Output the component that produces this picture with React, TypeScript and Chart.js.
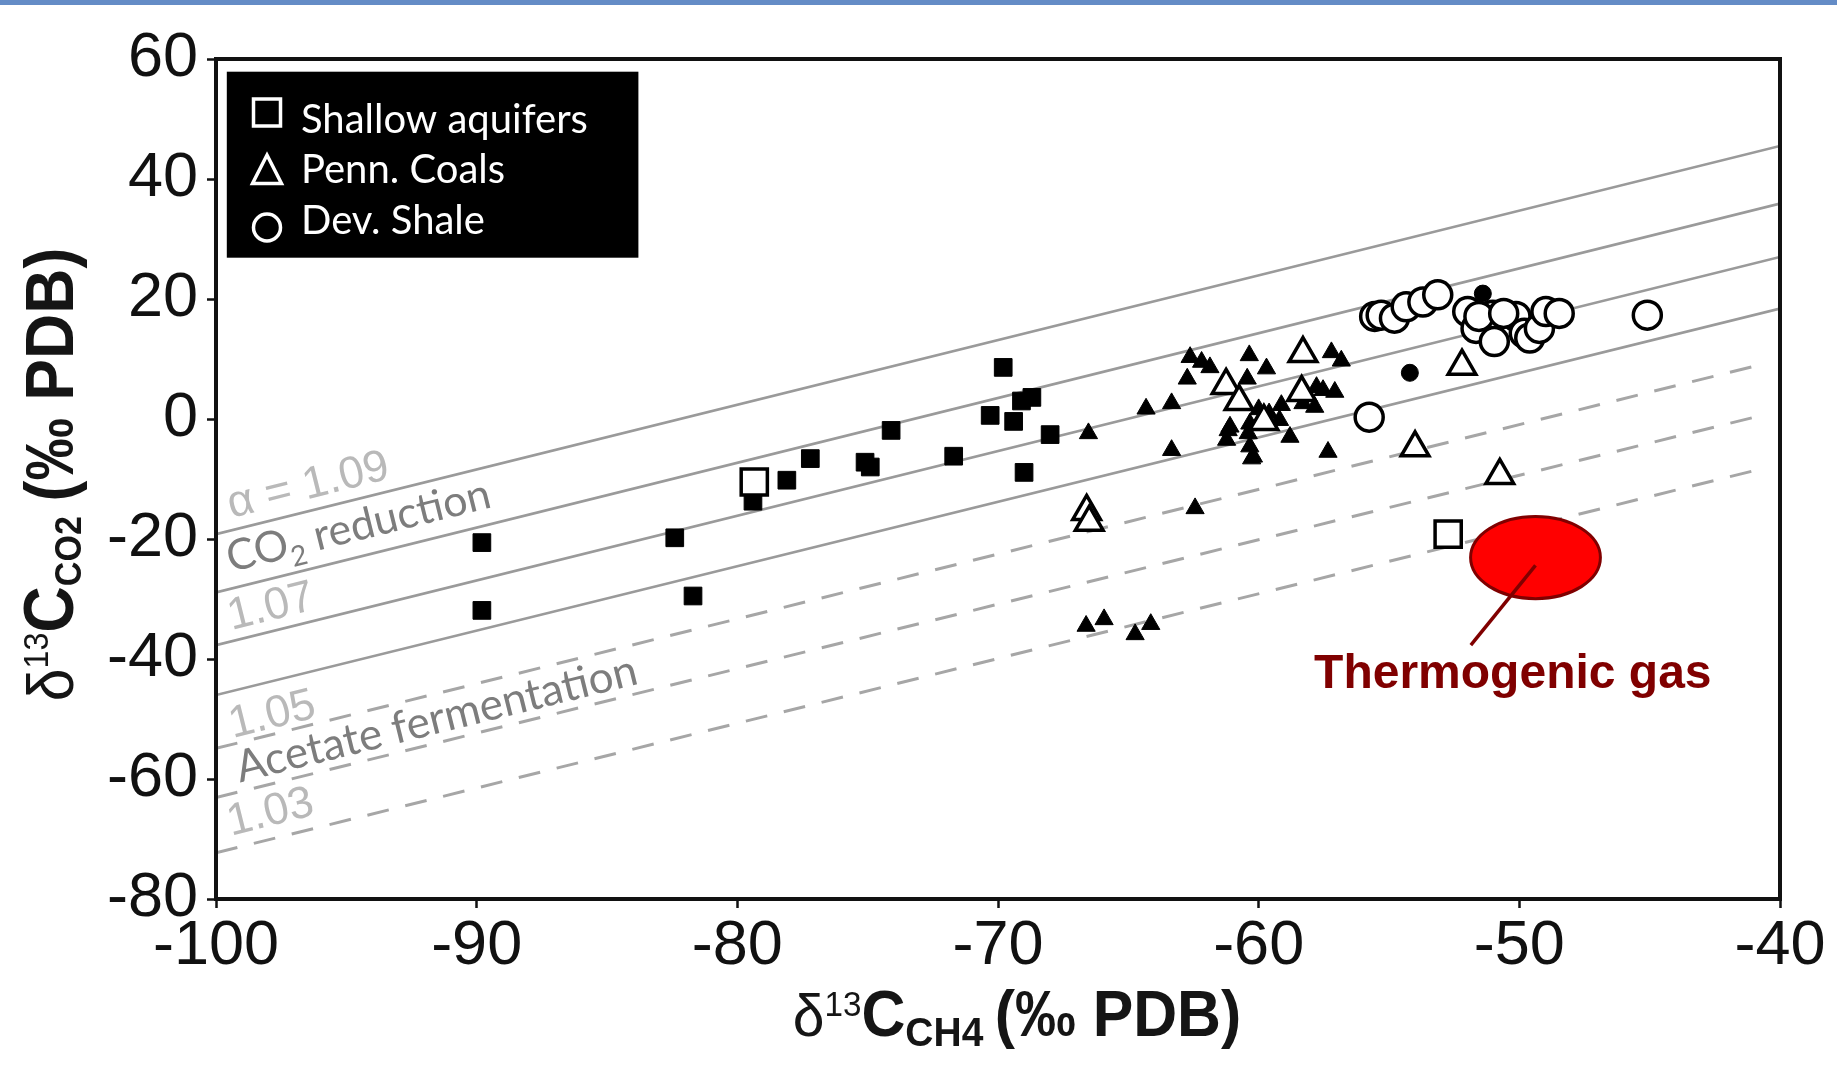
import React, { useEffect, useRef } from 'react';
import { Chart, registerables } from 'chart.js';

Chart.register(...registerables);

type Pt = [number, number];

const W = 1837;
const H = 1073;

// Axis ticks (‰ PDB)
const xTickValues = [-100, -90, -80, -70, -60, -50, -40];
const yTickValues = [-80, -60, -40, -20, 0, 20, 40, 60];

// Carbon isotope fractionation lines (α), end points in δ13C-CH4 / δ13C-CO2
const alphaLabels = ['1.09', '1.08', '1.07', '1.06', '1.05', '1.04', '1.03'];
const alphaStart: Pt[] = [[-100, -19.2], [-100, -28.9], [-100, -37.7], [-100, -46.0], [-100, -54.9], [-100, -63.1], [-100, -72.3]];
const alphaEnd: Pt[] = [[-40, 45.5], [-40, 35.9], [-40, 27.0], [-40, 18.4], [-40.8, 9.0], [-40.8, 0.5], [-40.8, -8.4]];

// Published reference data (filled symbols)
const refSquares: Pt[] = [
  [-89.8, -20.6], [-89.8, -31.9], [-82.4, -19.8], [-81.7, -29.5], [-79.4, -13.7], [-78.1, -10.2],
  [-77.2, -6.6], [-75.1, -7.2], [-74.9, -8.0], [-74.1, -1.9], [-71.7, -6.2], [-70.3, 0.6],
  [-69.8, 8.6], [-69.4, -0.4], [-69.1, 3.0], [-68.7, 3.6], [-69.0, -8.9], [-68.0, -2.6],
];
const refTriangles: Pt[] = [
  [-62.63, 10.3], [-62.19, 9.5], [-61.87, 8.6], [-62.74, 6.7], [-60.36, 10.6], [-59.7, 8.4],
  [-60.44, 6.7], [-64.32, 1.7], [-63.34, 2.6], [-66.53, -2.4], [-63.34, -5.2], [-62.44, -14.9],
  [-61.17, -1.9], [-61.23, -3.5], [-60.4, -2.4], [-60.34, -4.6], [-60.27, -6.6], [-59.13, 2.3],
  [-58.8, -3.0], [-59.6, 0.9], [-59.2, -0.2], [-57.21, 11.1], [-56.83, 9.7], [-57.08, 4.5],
  [-57.53, 4.8], [-57.78, 5.3], [-57.85, 2.0], [-58.3, 2.6], [-57.34, -5.5], [-61.1, -1.3],
  [-60.34, -0.8], [-59.77, -0.5], [-60.2, -6.3], [-60.0, 1.6],
  [-66.62, -34.5], [-65.93, -33.4], [-64.74, -35.9], [-64.14, -34.2],
];
const refCircles: Pt[] = [[-54.2, 7.7], [-51.4, 20.9]];

// This study (open symbols)
const shallowAquifers: Pt[] = [[-79.35, -10.5], [-52.73, -19.2]];
const pennCoals: Pt[] = [
  [-66.6, -15.4], [-66.5, -17.2], [-58.3, 10.9], [-58.35, 4.4], [-61.25, 5.6], [-60.75, 2.9],
  [-52.2, 8.8], [-54.0, -4.8], [-50.75, -9.4], [-59.8, -0.4],
];
const devShale: Pt[] = [
  [-55.55, 17.1], [-55.3, 17.3], [-54.79, 16.8], [-54.34, 18.7], [-53.7, 19.5], [-53.13, 20.7],
  [-51.98, 17.9], [-51.66, 15.1], [-51.02, 17.3], [-50.96, 12.9], [-50.13, 17.1], [-49.81, 14.3],
  [-49.6, 13.5], [-49.23, 15.1], [-48.98, 17.9], [-48.47, 17.6], [-45.09, 17.3], [-55.76, 0.3],
  [-51.55, 17.1], [-50.6, 17.6],
];

// Thermogenic gas field: centre, half-widths, leader line and label anchor
const thermoCenter: Pt = [-49.38, -23.1];
const thermoHalf: Pt = [2.49, 6.84];
const thermoLeader: Pt[] = [[-49.38, -24.4], [-51.86, -37.7]];
const thermoLabelAt: Pt = [-50.25, -44.9];

const AXIS_FONT = '"Liberation Sans", Arial, Helvetica, sans-serif';
const NOTE_FONT = 'Lato, "Open Sans", sans-serif';

interface Run { text: string; size: number; bold?: boolean; family?: string; shift?: number; gap?: number; }

function runFont(r: Run) {
  return `${r.bold ? 'bold ' : ''}${r.size}px ${r.family ?? AXIS_FONT}`;
}

function drawRuns(ctx: CanvasRenderingContext2D, runs: Run[], align: 'left' | 'center', squeeze: number) {
  ctx.save();
  ctx.scale(squeeze, 1);
  const widths = runs.map((r) => {
    ctx.font = runFont(r);
    return ctx.measureText(r.text).width + (r.gap ?? 0);
  });
  const total = widths.reduce((s, w) => s + w, 0);
  let x = align === 'center' ? -total / 2 : 0;
  ctx.textAlign = 'left';
  ctx.textBaseline = 'alphabetic';
  runs.forEach((r, i) => {
    ctx.font = runFont(r);
    ctx.fillText(r.text, x, r.shift ?? 0);
    x += widths[i];
  });
  ctx.restore();
}

function lineYAt(i: number, x: number) {
  const [x0, y0] = alphaStart[i];
  const [x1, y1] = alphaEnd[i];
  return y0 + ((y1 - y0) * (x - x0)) / (x1 - x0);
}

const LIGHT = '#b9b9b9';
const MID = '#7d7d7d';

const lineNotes: { line: number; x: number; lift: number; color: string; runs: Run[] }[] = [
  { line: 0, x: -99.3, lift: 12, color: LIGHT, runs: [{ text: 'α = 1.09', size: 45 }] },
  {
    line: 1, x: -99.3, lift: 16, color: MID,
    runs: [
      { text: 'CO', size: 43, family: NOTE_FONT },
      { text: '2', size: 28, family: NOTE_FONT, shift: 10 },
      { text: ' reduction', size: 43, family: NOTE_FONT },
    ],
  },
  { line: 2, x: -99.3, lift: 11, color: LIGHT, runs: [{ text: '1.07', size: 45 }] },
  { line: 4, x: -99.3, lift: 6, color: LIGHT, runs: [{ text: '1.05', size: 45 }] },
  { line: 5, x: -99.0, lift: 9, color: MID, runs: [{ text: 'Acetate fermentation', size: 44, family: NOTE_FONT }] },
  { line: 6, x: -99.3, lift: 13, color: LIGHT, runs: [{ text: '1.03', size: 45 }] },
];

const xTitleRuns: Run[] = [
  { text: 'δ', size: 60 },
  { text: '13', size: 35, shift: -20 },
  { text: 'C', size: 64, bold: true },
  { text: 'CH4', size: 41, bold: true, shift: 10, gap: 12 },
  { text: '(‰ PDB)', size: 64, bold: true },
];
const yTitleRuns: Run[] = [
  { text: 'δ', size: 64 },
  { text: '13', size: 35, shift: -25 },
  { text: 'C', size: 70, bold: true },
  { text: 'CO2', size: 37, bold: true, shift: 8, gap: 16 },
  { text: '(‰ PDB)', size: 68, bold: true },
];

const decorPlugin = {
  id: 'isotopeDecor',
  beforeDraw(chart: any) {
    const { ctx } = chart;
    ctx.save();
    ctx.fillStyle = '#ffffff';
    ctx.fillRect(0, 0, chart.width, chart.height);
    ctx.fillStyle = '#648cc6';
    ctx.fillRect(0, 0, chart.width, 5);
    ctx.restore();
  },
  beforeDatasetsDraw(chart: any) {
    const { ctx } = chart;
    const xs = chart.scales.x;
    const ys = chart.scales.y;
    lineNotes.forEach((n) => {
      const i = n.line;
      const px0 = xs.getPixelForValue(alphaStart[i][0]);
      const py0 = ys.getPixelForValue(alphaStart[i][1]);
      const px1 = xs.getPixelForValue(alphaEnd[i][0]);
      const py1 = ys.getPixelForValue(alphaEnd[i][1]);
      const ang = Math.atan2(py1 - py0, px1 - px0);
      const ax = xs.getPixelForValue(n.x);
      const ay = ys.getPixelForValue(lineYAt(i, n.x));
      ctx.save();
      ctx.translate(ax + Math.sin(ang) * n.lift, ay - Math.cos(ang) * n.lift);
      ctx.rotate(ang);
      ctx.fillStyle = n.color;
      drawRuns(ctx, n.runs, 'left', 1);
      ctx.restore();
    });
  },
  afterDatasetsDraw(chart: any) {
    const { ctx, chartArea } = chart;
    const xs = chart.scales.x;
    const ys = chart.scales.y;
    const { left, top, right, bottom } = chartArea;

    // thermogenic field
    const cx = xs.getPixelForValue(thermoCenter[0]);
    const cy = ys.getPixelForValue(thermoCenter[1]);
    const rx = Math.abs(xs.getPixelForValue(thermoCenter[0] + thermoHalf[0]) - cx);
    const ry = Math.abs(ys.getPixelForValue(thermoCenter[1] + thermoHalf[1]) - cy);
    ctx.save();
    ctx.beginPath();
    ctx.ellipse(cx, cy, rx, ry, 0, 0, Math.PI * 2);
    ctx.fillStyle = '#ff0000';
    ctx.fill();
    ctx.lineWidth = 3;
    ctx.strokeStyle = '#800000';
    ctx.stroke();
    ctx.beginPath();
    ctx.moveTo(xs.getPixelForValue(thermoLeader[0][0]), ys.getPixelForValue(thermoLeader[0][1]));
    ctx.lineTo(xs.getPixelForValue(thermoLeader[1][0]), ys.getPixelForValue(thermoLeader[1][1]));
    ctx.lineWidth = 3.5;
    ctx.stroke();
    ctx.fillStyle = '#800000';
    ctx.font = `bold 48px ${AXIS_FONT}`;
    ctx.textAlign = 'center';
    ctx.textBaseline = 'alphabetic';
    ctx.fillText('Thermogenic gas', xs.getPixelForValue(thermoLabelAt[0]), ys.getPixelForValue(thermoLabelAt[1]));
    ctx.restore();

    // plot frame
    ctx.save();
    ctx.strokeStyle = '#111111';
    ctx.lineWidth = 4;
    ctx.strokeRect(left, top, right - left, bottom - top);
    ctx.restore();

    // legend panel
    const lx = left + 10.8;
    const ly = top + 12.7;
    ctx.save();
    ctx.fillStyle = '#000000';
    ctx.fillRect(lx, ly, 411.6, 186);
    ctx.strokeStyle = '#ffffff';
    ctx.lineWidth = 3.5;
    const mx = left + 51;
    ctx.strokeRect(mx - 13.5, top + 53.5 - 13.5, 27, 27);
    ctx.beginPath();
    ctx.moveTo(mx, top + 96);
    ctx.lineTo(mx + 14.5, top + 124.5);
    ctx.lineTo(mx - 14.5, top + 124.5);
    ctx.closePath();
    ctx.stroke();
    ctx.beginPath();
    ctx.arc(mx, top + 168.5, 13.5, 0, Math.PI * 2);
    ctx.stroke();
    ctx.fillStyle = '#ffffff';
    ctx.font = `40px ${NOTE_FONT}`;
    ctx.textAlign = 'left';
    ctx.textBaseline = 'alphabetic';
    ctx.fillText('Shallow aquifers', left + 85, top + 73.7);
    ctx.fillText('Penn. Coals', left + 85, top + 124.3);
    ctx.fillText('Dev. Shale', left + 85, top + 175.3);
    ctx.restore();
  },
  afterDraw(chart: any) {
    const { ctx, chartArea } = chart;
    ctx.save();
    ctx.fillStyle = '#151515';
    ctx.translate(chartArea.left + 801, chartArea.bottom + 137);
    drawRuns(ctx, xTitleRuns, 'center', 0.95);
    ctx.restore();

    ctx.save();
    ctx.fillStyle = '#151515';
    ctx.translate(73, chartArea.top + 415.5);
    ctx.rotate(-Math.PI / 2);
    drawRuns(ctx, yTitleRuns, 'center', 0.92);
    ctx.restore();
  },
};

const pts = (a: Pt[]) => a.map(([x, y]) => ({ x, y }));

function markerSet(label: string, data: Pt[], style: string, radius: number, fill: string, border: number, order: number) {
  return {
    type: 'scatter' as const,
    label,
    data: pts(data),
    pointStyle: style,
    pointRadius: radius,
    pointHoverRadius: radius,
    pointBackgroundColor: fill,
    pointBorderColor: '#000000',
    pointBorderWidth: border,
    showLine: false,
    order,
  };
}

export default function App() {
  const canvasRef = useRef<HTMLCanvasElement>(null);

  useEffect(() => {
    document.body.style.margin = '0';
    const canvas = canvasRef.current;
    if (!canvas) return;

    const lineSets = alphaLabels.map((a, i) => {
      const dashed = parseFloat(a) <= 1.05;
      return {
        type: 'line' as const,
        label: `α = ${a}`,
        data: [
          { x: alphaStart[i][0], y: alphaStart[i][1] },
          { x: alphaEnd[i][0], y: alphaEnd[i][1] },
        ],
        borderColor: dashed ? '#a6a6a6' : '#9a9a9a',
        borderWidth: dashed ? 3 : 2.6,
        borderDash: dashed ? [22, 17] : [],
        pointRadius: 0,
        pointHoverRadius: 0,
        showLine: true,
        fill: false,
        tension: 0,
        order: 10,
      };
    });

    const tickFont = { family: AXIS_FONT, size: 63 };

    const chart = new Chart(canvas, {
      type: 'scatter',
      data: {
        datasets: [
          ...lineSets,
          markerSet('Reference (squares)', refSquares, 'rect', 12.5, '#000000', 1, 5),
          markerSet('Reference (triangles)', refTriangles, 'triangle', 10.5, '#000000', 1, 5),
          markerSet('Shallow aquifers', shallowAquifers, 'rect', 18.5, '#ffffff', 3.5, 2),
          markerSet('Penn. Coals', pennCoals, 'triangle', 16, '#ffffff', 3.5, 2),
          markerSet('Dev. Shale', devShale, 'circle', 14, '#ffffff', 3.5, 2),
          markerSet('Reference (circles)', refCircles, 'circle', 8.5, '#000000', 1, 1),
        ] as any,
      },
      options: {
        responsive: false,
        animation: false,
        events: [],
        layout: { padding: { top: 59, right: 57, left: 0, bottom: 0 } },
        plugins: {
          legend: { display: false },
          tooltip: { enabled: false },
          title: { display: false },
        },
        scales: {
          x: {
            type: 'linear',
            min: -100,
            max: -40,
            afterBuildTicks: (s: any) => {
              s.ticks = xTickValues.map((v) => ({ value: v }));
            },
            afterFit: (s: any) => {
              s.height = 174;
            },
            ticks: {
              font: tickFont,
              color: '#111111',
              padding: 1,
              maxRotation: 0,
              autoSkip: false,
              callback: (v: any) => String(v),
            },
            grid: { display: true, drawOnChartArea: false, drawTicks: true, tickLength: 9, tickWidth: 2.5, tickColor: '#111111' },
            border: { display: false },
          },
          y: {
            type: 'linear',
            min: -80,
            max: 60,
            afterBuildTicks: (s: any) => {
              s.ticks = yTickValues.map((v) => ({ value: v }));
            },
            afterFit: (s: any) => {
              s.width = 216;
            },
            ticks: {
              font: tickFont,
              color: '#111111',
              padding: 9,
              autoSkip: false,
              callback: (v: any) => String(v),
            },
            grid: { display: true, drawOnChartArea: false, drawTicks: true, tickLength: 9, tickWidth: 2.5, tickColor: '#111111' },
            border: { display: false },
          },
        },
      } as any,
      plugins: [decorPlugin],
    });

    return () => chart.destroy();
  }, []);

  return (
    <div style={{ position: 'fixed', left: 0, top: 0, width: W, height: H, background: '#ffffff' }}>
      <canvas ref={canvasRef} width={W} height={H} style={{ display: 'block', width: W, height: H }} />
    </div>
  );
}
